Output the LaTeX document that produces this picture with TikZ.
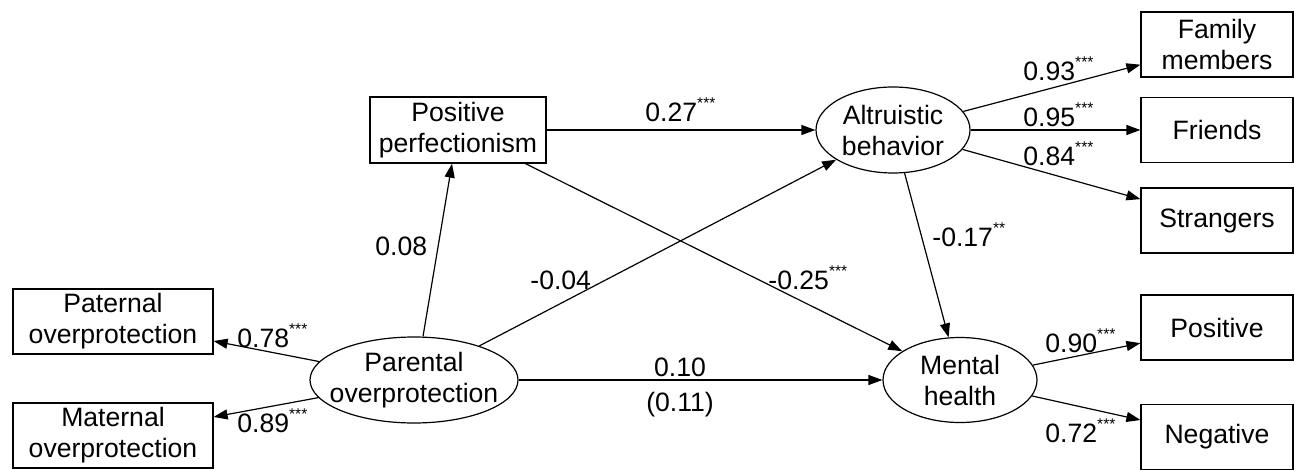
\documentclass[tikz,border=0pt]{standalone}
\usepackage{fontspec}
\setmainfont{Liberation Sans}
\usetikzlibrary{arrows.meta,shapes.geometric}
\tikzset{
  box/.style={draw=black, line width=0.6pt, align=center, inner sep=0pt, font=\fontsize{13.3pt}{15.5pt}\selectfont},
  obsbox/.style={box, minimum width=76pt, minimum height=32.5pt},
  latent/.style={draw=black, line width=0.6pt, ellipse, inner sep=0pt},
  lattext/.style={align=center, inner sep=0pt, font=\fontsize{13.3pt}{15.5pt}\selectfont},
  arrow/.style={-{Triangle[length=7pt,width=5pt]}, line width=0.6pt},
  coef/.style={anchor=base west, inner sep=0pt, font=\fontsize{13.3pt}{15.5pt}\selectfont}
}
\newcommand{\sig}[1]{\raisebox{6.5pt}{\fontsize{7.8pt}{8pt}\selectfont #1}}

\begin{document}
\begin{tikzpicture}[x=0.5pt, y=-0.5pt]
\useasboundingbox (0,0) rectangle (1294,470);
% left indicators
\node[box, minimum width=100pt, minimum height=32.5pt] (pat) at (113,321.5) {Paternal\\overprotection};
\node[box, minimum width=100pt, minimum height=32.5pt] (mat) at (113,435.5) {Maternal\\overprotection};
% latent variables
\node[latent, minimum width=104pt, minimum height=43pt, label={[lattext]center:Parental\\overprotection}] (par) at (414,380) {};
\node[box, minimum width=88pt, minimum height=33pt] (pp) at (458,130) {Positive\\perfectionism};
\node[latent, minimum width=77pt, minimum height=43pt, label={[lattext]center:Altruistic\\behavior}] (alt) at (893,130) {};
\node[latent, minimum width=77pt, minimum height=42.5pt, label={[lattext]center:Mental\\health}] (mh) at (960,380) {};
% right indicators
\node[obsbox] (fam) at (1217,44.5) {Family\\members};
\node[obsbox] (fri) at (1217,130) {Friends};
\node[obsbox] (str) at (1217,220.5) {Strangers};
\node[obsbox] (pos) at (1217,327.5) {Positive};
\node[obsbox] (neg) at (1217,437) {Negative};
% paths
\draw[arrow] (par) -- (pat);
\draw[arrow] (par) -- (mat);
\draw[arrow] ([xshift=4.5pt]par.north) -- ([xshift=-3pt]pp.south);
\draw[arrow] (par) -- (alt);
\draw[arrow] (par) -- (mh);
\draw[arrow] (pp) -- (alt);
\draw[arrow] (pp) -- (mh);
\draw[arrow] (alt) -- (mh);
\draw[arrow] (alt) -- (fam);
\draw[arrow] (alt) -- (fri);
\draw[arrow] (alt) -- (str);
\draw[arrow] (mh) -- (pos);
\draw[arrow] (mh) -- (neg);
% coefficients
\node[coef] (c1) at (237,347) {0.78\sig{***}};
\node[coef] (c2) at (237,432) {0.89\sig{***}};
\node[coef] (c3) at (375,256) {0.08};
\node[coef] (c4) at (530,289) {-0.04};
\node[coef] (c5) at (645,122) {0.27\sig{***}};
\node[coef] (c6) at (768,289) {-0.25\sig{***}};
\node[coef] (c7) at (932,247) {-0.17\sig{**}};
\node[coef] (c8) at (1023,81) {0.93\sig{***}};
\node[coef] (c9) at (1023,127) {0.95\sig{***}};
\node[coef] (c10) at (1023,166) {0.84\sig{***}};
\node[coef] (c11) at (1045,352) {0.90\sig{***}};
\node[coef] (c12) at (1045,442) {0.72\sig{***}};
\node[coef, anchor=base] (c13) at (680,376) {0.10};
\node[coef, anchor=base] (c14) at (680,411) {(0.11)};
\end{tikzpicture}
\end{document}
